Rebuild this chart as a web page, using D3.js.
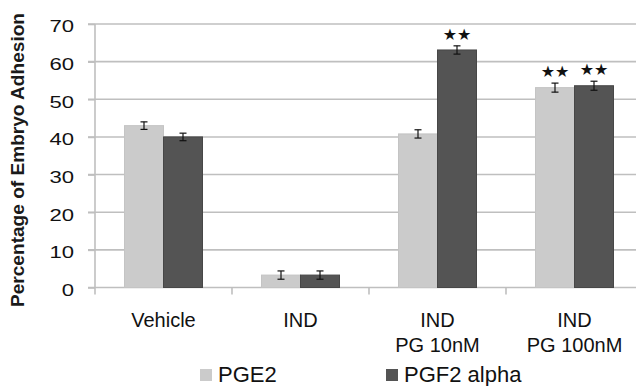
<!DOCTYPE html>
<html>
<head>
<meta charset="utf-8">
<script src="https://cdn.jsdelivr.net/npm/d3@7"></script>
<style>
  html, body { margin: 0; padding: 0; background: #fff; }
  svg { display: block; font-family: "Liberation Sans", Arial, sans-serif; }
</style>
</head>
<body>
<svg id="chart" width="636" height="386"></svg>
<script>
// Embryo adhesion (%) by treatment, two prostaglandins
const categories = ["Vehicle", "IND", "IND|PG 10nM", "IND|PG 100nM"];
const seriesNames = ["PGE2", "PGF2 alpha"];
const pge2Values = [43.0, 3.3, 40.8, 53.1];
const pge2Errors = [1.0, 1.1, 1.1, 1.2];
const pgf2Values = [40.0, 3.3, 63.1, 53.6];
const pgf2Errors = [1.0, 1.1, 1.1, 1.2];
const pge2Marks = ["", "", "", "**"];
const pgf2Marks = ["", "", "**", "**"];
const yTicks = [0, 10, 20, 30, 40, 50, 60, 70];

const colors = { "PGE2": "#cbcbcb", "PGF2 alpha": "#545454" };
const strokes = { "PGE2": "#c4c4c4", "PGF2 alpha": "#474747" };

const rows = categories.map((c, i) => ({
  cat: c,
  bars: [
    { s: seriesNames[0], v: pge2Values[i], e: pge2Errors[i], m: pge2Marks[i] },
    { s: seriesNames[1], v: pgf2Values[i], e: pgf2Errors[i], m: pgf2Marks[i] }
  ]
}));

const svg = d3.select("#chart");
const plotLeft = 95, plotTop = 24, plotBottom = 287.5, step = 137;

const x = d3.scaleBand().domain(categories).range([plotLeft, plotLeft + step * categories.length]).padding(0);
const xs = d3.scaleBand().domain(seriesNames).range([29.5, 107.5]).padding(0);
const y = d3.scaleLinear().domain([0, 70]).range([plotBottom, plotTop]);

const gridColor = "#bfbfbf";

// horizontal gridlines
svg.append("g").selectAll("line").data(yTicks).join("line")
  .attr("x1", plotLeft - 7).attr("x2", 636)
  .attr("y1", d => y(d)).attr("y2", d => y(d))
  .attr("stroke", gridColor).attr("stroke-width", 1.6);

// y axis
const yAxis = svg.append("g").attr("transform", `translate(${plotLeft},0)`)
  .call(d3.axisLeft(y).tickValues(yTicks).tickSize(7).tickPadding(0));
yAxis.select(".domain").remove();
yAxis.selectAll(".tick line").attr("stroke", gridColor).attr("stroke-width", 1.6);
yAxis.selectAll(".tick text")
  .attr("font-size", 17).attr("fill", "#111")
  .attr("x", -21 / 1.3).attr("dy", "0.46em")
  .attr("transform", "scale(1.3,1)")
  .attr("font-family", "'Liberation Sans', Arial, sans-serif");
svg.append("line")
  .attr("x1", plotLeft).attr("x2", plotLeft).attr("y1", plotTop).attr("y2", plotBottom + 7)
  .attr("stroke", gridColor).attr("stroke-width", 1.6);

// category ticks
const xAxis = svg.append("g").attr("transform", `translate(0,${plotBottom})`)
  .call(d3.axisBottom(x).tickSize(0).tickFormat(""));
xAxis.select(".domain").remove();
svg.append("g").selectAll("line").data(categories.slice(1)).join("line")
  .attr("x1", d => x(d)).attr("x2", d => x(d))
  .attr("y1", plotBottom).attr("y2", plotBottom + 7)
  .attr("stroke", gridColor).attr("stroke-width", 1.6);

// category labels (two lines where needed)
const labels = svg.append("g").attr("font-size", 20).attr("fill", "#111").attr("text-anchor", "middle");
categories.forEach(c => {
  const t = labels.append("text").attr("x", x(c) + x.bandwidth() / 2).attr("y", 327);
  c.split("|").forEach((ln, i) => {
    t.append("tspan").attr("x", x(c) + x.bandwidth() / 2).attr("dy", i === 0 ? 0 : 25).text(ln);
  });
});

// bars, error bars, significance marks
const groups = svg.append("g").selectAll("g").data(rows).join("g")
  .attr("transform", d => `translate(${x(d.cat)},0)`);

groups.selectAll("rect").data(d => d.bars).join("rect")
  .attr("x", d => xs(d.s)).attr("width", xs.bandwidth())
  .attr("y", d => y(d.v)).attr("height", d => y(0) - y(d.v))
  .attr("fill", d => colors[d.s]).attr("stroke", d => strokes[d.s]).attr("stroke-width", 1);

const eb = groups.selectAll("g.err").data(d => d.bars).join("g").attr("class", "err")
  .attr("stroke", "#111").attr("stroke-width", 1.2);
eb.append("line")
  .attr("x1", d => xs(d.s) + xs.bandwidth() / 2).attr("x2", d => xs(d.s) + xs.bandwidth() / 2)
  .attr("y1", d => y(d.v + d.e)).attr("y2", d => y(d.v - d.e));
eb.append("line")
  .attr("x1", d => xs(d.s) + xs.bandwidth() / 2 - 3.5).attr("x2", d => xs(d.s) + xs.bandwidth() / 2 + 3.5)
  .attr("y1", d => y(d.v + d.e)).attr("y2", d => y(d.v + d.e));
eb.append("line")
  .attr("x1", d => xs(d.s) + xs.bandwidth() / 2 - 3.5).attr("x2", d => xs(d.s) + xs.bandwidth() / 2 + 3.5)
  .attr("y1", d => y(d.v - d.e)).attr("y2", d => y(d.v - d.e));

groups.selectAll("text.sig").data(d => d.bars.filter(b => b.m)).join("text").attr("class", "sig")
  .attr("x", d => xs(d.s) + xs.bandwidth() / 2)
  .attr("y", d => y(d.v + d.e) - 6)
  .attr("text-anchor", "middle").attr("font-size", 16)
  .attr("font-family", "'DejaVu Sans', sans-serif")
  .attr("fill", "#111")
  .text(d => d.m.replace(/\*/g, "\u2605"));

// y axis title
svg.append("text")
  .attr("transform", "translate(24,160) rotate(-90)")
  .attr("text-anchor", "middle").attr("font-size", 18).attr("font-weight", "bold")
  .attr("fill", "#1a1a1a")
  .attr("textLength", 294).attr("lengthAdjust", "spacingAndGlyphs")
  .text("Percentage of Embryo Adhesion");

// legend
const legendX = [200, 386];
const legend = svg.append("g").selectAll("g").data(seriesNames).join("g")
  .attr("transform", (d, i) => `translate(${legendX[i]},369)`);
legend.append("rect").attr("width", 12).attr("height", 12).attr("fill", d => colors[d]);
legend.append("text").attr("x", 18).attr("y", 13).attr("font-size", 22).attr("fill", "#111").text(d => d);
</script>
</body>
</html>
